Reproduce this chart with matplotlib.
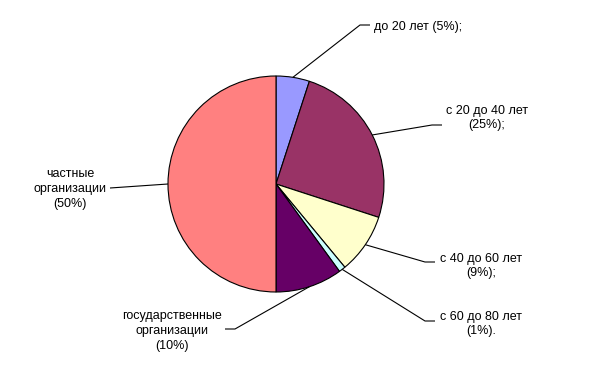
import numpy as np
import matplotlib.pyplot as plt

plt.rcParams['font.family'] = ['Liberation Sans', 'DejaVu Sans']

labels = ['до 20 лет (5%);', 'с 20 до 40 лет\n(25%);', 'с 40 до 60 лет\n(9%);',
          'с 60 до 80 лет\n(1%).', 'государственные\nорганизации\n(10%)',
          'частные\nорганизации\n(50%)']
values = [5, 25, 9, 1, 10, 50]
colors = ['#9999FF', '#993366', '#FFFFCC', '#CCFFFF', '#660066', '#FF8080']

W, H = 591, 385
fig = plt.figure(figsize=(W / 100, H / 100), dpi=100)
ax = fig.add_axes([0, 0, 1, 1])
ax.set_xlim(0, W)
ax.set_ylim(0, H)
ax.axis('off')

cx, cy, r = 276, H - 184, 108
wedges, _ = ax.pie(values, colors=colors, startangle=90, counterclock=False,
                   center=(cx, cy), radius=r, frame=True,
                   wedgeprops=dict(edgecolor='black', linewidth=0.8))
ax.set_xlim(0, W)
ax.set_ylim(0, H)
ax.axis('off')

# leader layout: elbow point, end of horizontal tick, text anchor, alignment
layout = [
    ((360, 25), (370, 25), (374, 27), 'left'),
    ((432, 125), (442, 125), (487, 118), 'center'),
    ((425, 262), (435, 262), (481, 266), 'center'),
    ((425, 321), (435, 321), (481, 324), 'center'),
    ((235, 329), (225, 329), (172, 331), 'center'),
    ((110, 188), (110, 188), (70, 189), 'center'),
]

for w, (elb, end, txt, ha) in zip(wedges, layout):
    a = np.radians((w.theta1 + w.theta2) / 2)
    x0, y0 = cx + r * np.cos(a), cy + r * np.sin(a)
    ax.plot([x0, elb[0], end[0]], [y0, H - elb[1], H - end[1]],
            color='black', lw=0.8, solid_capstyle='butt')

for lab, (elb, end, txt, ha) in zip(labels, layout):
    ax.text(txt[0], H - txt[1], lab, ha=ha, va='center', fontsize=9,
            linespacing=1.3, color='black', multialignment='center')

fig.savefig('out.png', dpi=100)
